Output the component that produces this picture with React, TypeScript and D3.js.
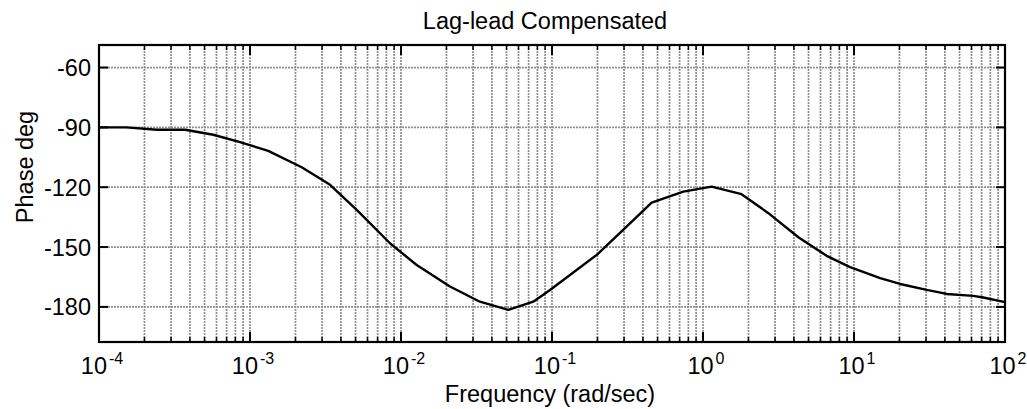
import React from "react";
import * as d3 from "d3";

const freqs = [1.0e-4, 1.52e-4, 2.41e-4, 3.72e-4, 5.71e-4, 8.59e-4, 1.32e-3, 2.2e-3, 3.39e-3, 5.09e-3, 8.45e-3, 0.0127, 0.0211, 0.0333, 0.0514, 0.0752, 0.097, 0.198, 0.296, 0.457, 0.741, 1.14, 1.8, 2.71, 4.28, 6.59, 9.42, 14.9, 20.2, 30.3, 41.1, 61.7, 71.8, 100];
const phase = [-90, -90, -91.2, -91.2, -93.7, -97.4, -101.8, -110, -118.8, -131.4, -148.1, -159, -169.8, -177.4, -181.5, -177.4, -171.5, -153.9, -141.4, -127.7, -122.2, -119.7, -123.5, -133, -145.1, -154.4, -160.1, -165.6, -168.5, -171.5, -173.5, -174.5, -175.3, -177.6];
const xDecades = [-4, -3, -2, -1, 0, 1, 2];
const yTicks = [-60, -90, -120, -150, -180];
const title = "Lag-lead Compensated";
const xLabel = "Frequency (rad/sec)";
const yLabel = "Phase deg";

const W = 1027, H = 409;
const L = 99, R = 1005, T = 45, B = 342;
const FONT = "'Liberation Sans', Arial, Helvetica, sans-serif";
const FS = 23.5;

export default function App() {
  const x = d3.scaleLog().domain([1e-4, 1e2]).range([L, R]);
  const y = d3.scaleLinear().domain([-197.6, -48.7]).range([B, T]);
  const minors: number[] = [];
  for (let d = -4; d < 2; d++) for (let m = 2; m <= 9; m++) minors.push(m * Math.pow(10, d));
  const majors = xDecades.map((d) => Math.pow(10, d));
  const line = d3.line<number>().x((_, i) => x(freqs[i])).y((v) => y(v));
  const gridStyle = { stroke: "#8f8f8f", strokeWidth: 1.7, strokeDasharray: "2,1" };

  return (
    <svg width={W} height={H} style={{ position: "absolute", left: 0, top: 0, background: "#fff" }} fontFamily={FONT}>
      <rect x={0} y={0} width={W} height={H} fill="#fff" />
      {[...minors, ...majors].map((f, i) => (
        <line key={"vg" + i} x1={x(f)} x2={x(f)} y1={T} y2={B} {...gridStyle} />
      ))}
      {yTicks.map((v, i) => (
        <line key={"hg" + i} x1={L} x2={R} y1={y(v)} y2={y(v)} {...gridStyle} />
      ))}
      {minors.map((f, i) => (
        <g key={"mt" + i} stroke="#000" strokeWidth={1.5}>
          <line x1={x(f)} x2={x(f)} y1={B} y2={B - 5} />
          <line x1={x(f)} x2={x(f)} y1={T} y2={T + 5} />
        </g>
      ))}
      {majors.map((f, i) => (
        <g key={"Mt" + i} stroke="#000" strokeWidth={2}>
          <line x1={x(f)} x2={x(f)} y1={B} y2={B - 10} />
          <line x1={x(f)} x2={x(f)} y1={T} y2={T + 10} />
        </g>
      ))}
      {yTicks.map((v, i) => (
        <g key={"yt" + i} stroke="#000" strokeWidth={2}>
          <line x1={L} x2={L + 9} y1={y(v)} y2={y(v)} />
          <line x1={R} x2={R - 9} y1={y(v)} y2={y(v)} />
        </g>
      ))}
      <path d={line(phase) || ""} fill="none" stroke="#000" strokeWidth={2.4} strokeLinejoin="round" />
      <rect x={L} y={T} width={R - L} height={B - T} fill="none" stroke="#000" strokeWidth={2.2} />
      {yTicks.map((v, i) => (
        <text key={"yl" + i} x={91} y={y(v) + 8.5} textAnchor="end" fontSize={FS} fill="#000">
          {String(v)}
        </text>
      ))}
      {xDecades.map((d, i) => (
        <text key={"xl" + i} x={x(Math.pow(10, d)) + 3} y={374} textAnchor="middle" fontSize={FS} fill="#000">
          <tspan>10</tspan>
          <tspan fontSize={16} dy={-10} dx={2}>{String(d)}</tspan>
        </text>
      ))}
      <text x={545} y={29} textAnchor="middle" fontSize={FS} fill="#000">{title}</text>
      <text x={550} y={402} textAnchor="middle" fontSize={FS} fill="#000">{xLabel}</text>
      <text transform="translate(33,167) rotate(-90)" textAnchor="middle" fontSize={FS} fill="#000">{yLabel}</text>
    </svg>
  );
}
